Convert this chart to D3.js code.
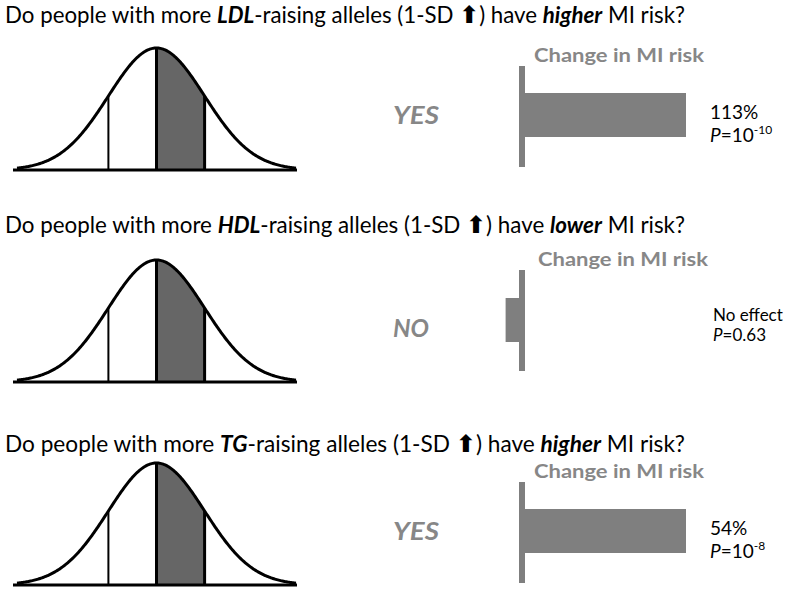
<!DOCTYPE html>
<html><head><meta charset="utf-8">
<script src="https://cdn.jsdelivr.net/npm/d3@7"></script>
<style>
html,body{margin:0;padding:0;background:#fff;}
svg{display:block;}
</style></head>
<body>
<svg id="chart" width="800" height="595"></svg>
<script>
// ---- data ----
const lipids = ["LDL", "HDL", "TG"];
const directions = ["higher", "lower", "higher"];
const answers = ["YES", "NO", "YES"];
const effectLabels = ["113%", "No effect", "54%"];
const pLabels = [["10", "-10"], ["0.63", ""], ["10", "-8"]];
// schematic bar length as drawn (relative units, 1 = full bar)
const barLength = [1.0, -0.1, 1.0];
const sdMarks = [-1, 0, 1];
const axisTitle = "Change in MI risk";

// ---- layout ----
const svg = d3.select("#chart");
const titleY = [23, 233, 452];
const curveBase = [170, 382, 585];
const axisTop = [66, 270, 482];
const gray = "#878787";
const barGray = "#7f7f7f";
const font = "Lato, 'Open Sans', sans-serif";

const zx = d3.scaleLinear().domain([-2.9, 2.9]).range([17, 296]);
const dens = z => Math.exp(-z * z / 2);
const zs = d3.range(-2.9, 2.9001, 0.02);

const bx = d3.scaleLinear().domain([0, 1]).range([522, 686]);

lipids.forEach((lip, i) => {
  const g = svg.append("g");
  // title
  const t = g.append("text").attr("x", 5).attr("y", titleY[i])
    .attr("font-family", font).attr("font-size", 22.5).attr("fill", "#000");
  t.append("tspan").text("Do people with more ");
  t.append("tspan").attr("font-weight", "bold").attr("font-style", "italic").text(lip);
  t.append("tspan").text("-raising alleles (1-SD ");
  t.append("tspan").attr("font-family", "'DejaVu Sans'").attr("font-weight", "bold").attr("font-size", 24).text("\u2B06");
  t.append("tspan").text(") have ");
  t.append("tspan").attr("font-weight", "bold").attr("font-style", "italic").text(directions[i]);
  t.append("tspan").text(" MI risk?");
  t.attr("textLength", 680).attr("lengthAdjust", "spacingAndGlyphs");

  // bell curve
  const yS = d3.scaleLinear().domain([0, 1]).range([curveBase[i], curveBase[i] - 122]);
  const area = d3.area().x(z => zx(z)).y0(yS(0)).y1(z => yS(dens(z)));
  const shadeZ = zs.filter(z => z >= -0.001 && z <= 1.001);
  g.append("path").datum(shadeZ).attr("d", area).attr("fill", "#666");
  const line = d3.line().x(z => zx(z)).y(z => yS(dens(z)));
  g.append("path").datum(zs).attr("d", line).attr("fill", "none")
    .attr("stroke", "#000").attr("stroke-width", 3);
  sdMarks.forEach(s => {
    g.append("line").attr("x1", zx(s)).attr("x2", zx(s))
      .attr("y1", yS(0)).attr("y2", yS(dens(s)))
      .attr("stroke", "#000").attr("stroke-width", s < 0 ? 2 : 3);
  });
  g.append("line").attr("x1", 13).attr("x2", 297).attr("y1", yS(0)).attr("y2", yS(0))
    .attr("stroke", "#000").attr("stroke-width", 3);

  // answer
  g.append("text").attr("x", 393).attr("y", axisTop[i] + 58 + (i === 1 ? 9 : 0))
    .attr("font-family", font).attr("font-weight", "bold").attr("font-style", "italic")
    .attr("font-size", 25).attr("fill", gray).text(answers[i])
    .attr("textLength", i === 1 ? 36 : 46).attr("lengthAdjust", "spacingAndGlyphs");

  // axis title
  g.append("text").attr("x", i === 1 ? 538 : 534).attr("y", axisTop[i] - 4)
    .attr("font-family", font).attr("font-weight", "bold").attr("font-size", 19)
    .attr("fill", gray).text(axisTitle)
    .attr("textLength", 170).attr("lengthAdjust", "spacingAndGlyphs");

  // bar
  const v = barLength[i];
  const x0 = Math.min(bx(0), bx(v)), x1 = Math.max(bx(0), bx(v));
  const by = axisTop[i] + 27 + (i === 1 ? 1 : 0);
  g.append("rect").attr("x", x0).attr("y", by).attr("width", x1 - x0).attr("height", 44)
    .attr("fill", barGray);
  g.append("rect").attr("x", 519).attr("y", axisTop[i]).attr("width", 6).attr("height", 101)
    .attr("fill", barGray);

  // labels
  const lx = i === 1 ? 713 : 710;
  const fs = i === 1 ? 17 : 19;
  g.append("text").attr("x", lx).attr("y", i === 1 ? 321 : axisTop[i] + 53)
    .attr("font-family", font).attr("font-size", fs).attr("fill", "#000").text(effectLabels[i]);
  const p = g.append("text").attr("x", lx).attr("y", i === 1 ? 341 : axisTop[i] + 76)
    .attr("font-family", font).attr("font-size", fs).attr("fill", "#000");
  p.append("tspan").attr("font-style", "italic").text("P");
  p.append("tspan").text("=" + pLabels[i][0]);
  if (pLabels[i][1]) {
    p.append("tspan").attr("font-size", 12).attr("dy", -8).text(pLabels[i][1]);
  }
});
</script>
</body></html>
